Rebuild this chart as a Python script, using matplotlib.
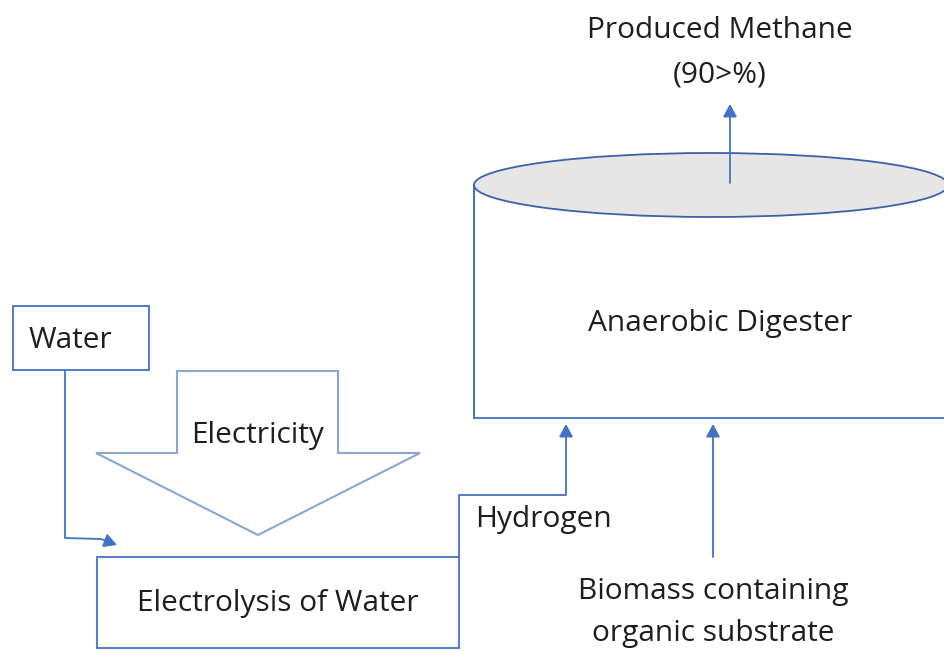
import matplotlib.pyplot as plt
from matplotlib.patches import Rectangle, Polygon, Ellipse

# labels shown in the diagram
title_lines = ["Produced Methane", "(90>%)"]
digester_label = "Anaerobic Digester"
water_label = "Water"
power_label = "Electricity"
gas_label = "Hydrogen"
cell_label = "Electrolysis of Water"
feed_lines = ["Biomass containing", "organic substrate"]

BLUE = "#4472C4"
DARK = "#3A62A8"
PALE = "#8AA6D6"
FONT = "Open Sans"

fig = plt.figure(figsize=(9.44, 6.51), dpi=100)
ax = fig.add_axes([0, 0, 1, 1])
ax.set_xlim(0, 944)
ax.set_ylim(651, 0)
ax.axis("off")


def arrow(points, color=BLUE, lw=1.3):
    xs = [p[0] for p in points]
    ys = [p[1] for p in points]
    ax.plot(xs[:-1], ys[:-1], color=color, lw=lw, solid_capstyle="butt")
    ax.annotate("", xy=points[-1], xytext=points[-2],
                arrowprops=dict(arrowstyle="-|>,head_length=0.55,head_width=0.3",
                                color=color, lw=lw, shrinkA=0, shrinkB=0,
                                mutation_scale=14))


# digester cylinder
ax.plot([474, 474], [185, 418], color=DARK, lw=1.3)
ax.plot([474, 950], [418, 418], color=BLUE, lw=1.3)
ax.add_patch(Ellipse((711, 185), 474, 64, facecolor="#E6E6E6",
                     edgecolor=DARK, lw=1.3, zorder=3))
arrow([(730, 183), (730, 104)])

# water box and feed line
ax.add_patch(Rectangle((13, 306), 136, 64, fill=False, edgecolor=BLUE, lw=1.3))
arrow([(65, 370), (65, 538), (101, 539), (117, 545)])

# electricity block arrow
ax.add_patch(Polygon([(177, 371), (338, 371), (338, 453), (420, 453),
                      (258, 535), (96, 453), (177, 453)],
                     closed=True, fill=False, edgecolor=PALE, lw=1.5))

# electrolysis box
ax.add_patch(Rectangle((97, 557), 362, 91, fill=False, edgecolor=BLUE, lw=1.3))

# hydrogen line into digester
arrow([(459, 557), (459, 495), (566, 495), (566, 424)])

# biomass line into digester
arrow([(713, 557), (713, 424)])

txt = dict(fontsize=21.5, family=FONT, color="#1e1e1e", va="center")
ax.text(720, 30, title_lines[0], ha="center", **txt)
ax.text(720, 75, title_lines[1], ha="center", **txt)
ax.text(720, 323, digester_label, ha="center", **txt)
ax.text(29, 340, water_label, ha="left", **txt)
ax.text(258, 435, power_label, ha="center", **txt)
ax.text(475, 519, gas_label, ha="left", **txt)
ax.text(278, 604, cell_label, ha="center", **txt)
ax.text(713, 591, feed_lines[0], ha="center", **txt)
ax.text(713, 633, feed_lines[1], ha="center", **txt)

fig.savefig("out.png", dpi=100)
